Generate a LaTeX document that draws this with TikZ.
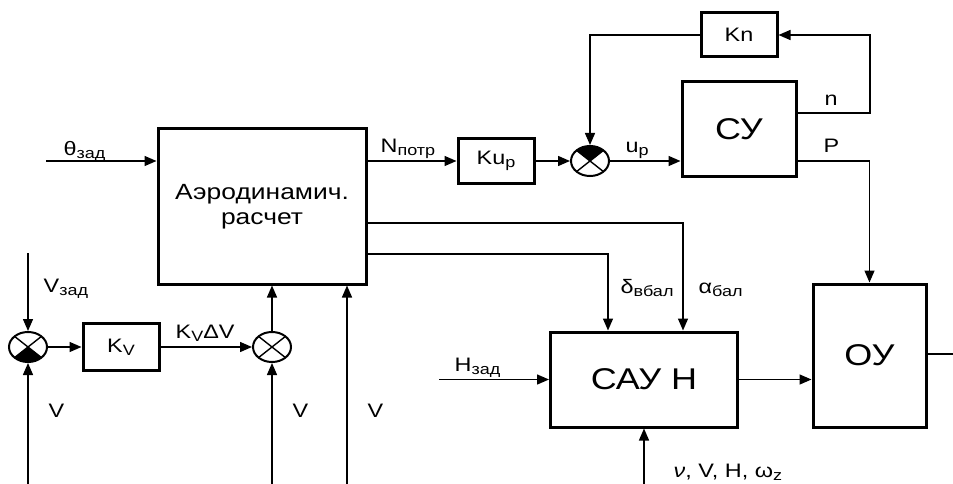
\documentclass[tikz,border=0pt]{standalone}
\usepackage{fontspec}
\setmainfont{Liberation Sans}[FakeStretch=1.2]
\usetikzlibrary{arrows.meta,shapes.geometric}

\newcommand{\lowidx}[1]{\raisebox{-3pt}{\fontsize{15}{15}\selectfont #1}}

\tikzset{
  blk/.style={draw, line width=3pt, inner sep=0pt, align=center},
  big/.style={font=\fontsize{30}{34}\selectfont},
  lbl/.style={inner sep=0pt, anchor=base west},
  sumx/.style={ellipse, draw, line width=2pt, minimum width=38pt,
    minimum height=30pt, inner sep=0pt,
    path picture={
      \draw[line width=1.4pt]
        (path picture bounding box.north west) -- (path picture bounding box.south east)
        (path picture bounding box.north east) -- (path picture bounding box.south west);}},
  sumlo/.style={sumx,
    path picture={
      \fill (path picture bounding box.center) -- (path picture bounding box.south west)
        -- (path picture bounding box.south east) -- cycle;
      \draw[line width=1.4pt]
        (path picture bounding box.north west) -- (path picture bounding box.south east)
        (path picture bounding box.north east) -- (path picture bounding box.south west);}},
  sumhi/.style={sumx,
    path picture={
      \fill (path picture bounding box.center) -- (path picture bounding box.north west)
        -- (path picture bounding box.north east) -- cycle;
      \draw[line width=1.4pt]
        (path picture bounding box.north west) -- (path picture bounding box.south east)
        (path picture bounding box.north east) -- (path picture bounding box.south west);}}
}

\begin{document}
\begin{tikzpicture}[x=1pt, y=-1pt, >={Triangle[length=12pt,width=10pt]},
  line width=1.4pt, font=\fontsize{19.5}{22}\selectfont]

  \useasboundingbox (0,0) rectangle (953,484);

  % --- 1. блоки ---
  \node[blk, minimum width=208pt, minimum height=155pt,
    font=\fontsize{22}{25}\selectfont] (aero) at (262,206.5) {Аэродинамич.\\расчет};
  \node[blk, minimum width=76pt, minimum height=47pt] (kv) at (121,347) {K\lowidx{V}};
  \node[blk, minimum width=76pt, minimum height=44pt] (kup) at (496,161) {Ku\lowidx{p}};
  \node[blk, minimum width=76pt, minimum height=44pt] (kn) at (739,35) {Kn};
  \node[blk, big, minimum width=114pt, minimum height=94pt] (cy) at (739,129) {СУ};
  \node[blk, big, minimum width=187pt, minimum height=95pt] (cay) at (644,379.5) {САУ Н};
  \node[blk, big, minimum width=113pt, minimum height=143pt] (oy) at (869.5,355.5) {ОУ};

  % --- 2. сумматоры ---
  \node[sumlo] (s1) at (28,347) {};
  \node[sumx] (s2) at (272,347) {};
  \node[sumhi] (s3) at (590,161) {};

  % --- 3. концы входов и изломы ---
  \coordinate (thin) at (46,161);
  \coordinate (vzin) at (28,253);
  \coordinate (v1) at (28,484);
  \coordinate (v2) at (272,484);
  \coordinate (v3) at (347,484);
  \coordinate (nout) at (870,113);
  \coordinate (pout) at (869.5,161);
  \coordinate (aout) at (683,223);
  \coordinate (dout) at (608,254);
  \coordinate (hin) at (439,379.5);
  \coordinate (fb) at (644,484);
  \coordinate (yout) at (953,354);

  % --- 4. связи ---
  \draw[->] (thin) -- (aero.west |- thin);
  \draw[->] (vzin) -- (s1.north);
  \draw[->] (v1) -- (s1.south);
  \draw[->] (s1.east) -- (kv.west);
  \draw[->] (kv.east) -- (s2.west);
  \draw[->] (s2.north) -- (s2.north |- aero.south);
  \draw[->] (v2) -- (s2.south);
  \draw[->] (v3) -- (v3 |- aero.south);
  \draw[->] (aero.east |- kup) -- (kup.west);
  \draw[->] (kup.east) -- (s3.west);
  \draw[->] (s3.east) -- (s3.east -| cy.west);
  \draw[->] (nout -| cy.east) -- (nout) |- (kn.east);
  \draw[->] (kn.west) -| (s3.north);
  \draw[->] (pout -| cy.east) -- (pout) -- (oy.north);
  \draw[->] (aero.east |- aout) -- (aout) -- (aout |- cay.north);
  \draw[->] (aero.east |- dout) -- (dout) -- (dout |- cay.north);
  \draw[->] (hin) -- (cay.west);
  \draw[->] (cay.east) -- (cay.east -| oy.west);
  \draw[->] (fb) -- (cay.south);
  \draw (oy.east |- yout) -- (yout);

  % --- 5. подписи ---
  \node[lbl] (lth) at (63,155) {θ\lowidx{зад}};
  \node[lbl] (lvz) at (43,292) {V\lowidx{зад}};
  \node[lbl] (lv1) at (48,417) {V};
  \node[lbl] (lv2) at (292,417) {V};
  \node[lbl] (lv3) at (367,417) {V};
  \node[lbl] (lkdv) at (175,338) {K\lowidx{V}ΔV};
  \node[lbl] (lnp) at (380,153) {N\lowidx{потр}};
  \node[lbl] (lup) at (625,153) {u\lowidx{p}};
  \node[lbl] (ln) at (824,106) {n};
  \node[lbl] (lp) at (823,153) {P};
  \node[lbl] (ldb) at (620,293) {δ\lowidx{вбал}};
  \node[lbl] (lab) at (698,293) {α\lowidx{бал}};
  \node[lbl] (lhz) at (454,371) {H\lowidx{зад}};
  \node[lbl] (lfb) at (673,477) {\textit{ν}, V, H, ω\lowidx{z}};

\end{tikzpicture}
\end{document}
